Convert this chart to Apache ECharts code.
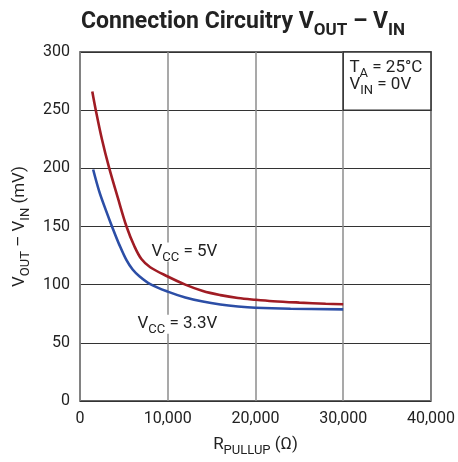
<!DOCTYPE html>
<html><head><meta charset="utf-8">
<script src="https://cdn.jsdelivr.net/npm/echarts@6/dist/echarts.min.js"></script>
<style>html,body{margin:0;padding:0;background:#fff}#c{width:458px;height:462px}</style>
</head><body><div id="c"></div>
<script>
// R_PULLUP (ohm) and VOUT - VIN (mV)
const vcc5X = [1400, 1800, 2500, 3300, 4300, 5300, 6200, 7000, 8000, 10000, 12000, 14000, 16000, 18000, 20000, 22000, 25000, 28000, 30000];
const vcc5Y = [266, 250, 225, 201, 175, 150, 133, 122, 115, 107, 100, 94.5, 91, 88.5, 87, 85.8, 84.6, 83.6, 83.2];
const vcc33X = [1500, 2200, 3000, 3700, 4500, 5300, 6000, 6800, 8000, 10000, 12000, 14000, 16000, 18000, 20000, 24000, 30000];
const vcc33Y = [199, 180, 163, 149, 134, 121, 113, 107, 100.5, 94, 89, 85.5, 83, 81.3, 80.2, 79.3, 78.8];
const xTicks = [0, 10000, 20000, 30000, 40000];
const yTicks = [0, 50, 100, 150, 200, 250, 300];

const FONT = 'Roboto, "Liberation Sans", sans-serif';
const INK = '#222';
const main = (fs) => ({fontFamily: FONT, fontSize: fs, color: INK});
const sub = (fs, drop) => ({fontFamily: FONT, fontSize: fs, color: INK, verticalAlign: 'bottom', padding: [0, 0, -drop, 0]});

const chart = echarts.init(document.getElementById('c'));
chart.setOption({
  animation: false,
  title: {
    text: '{m|Connection Circuitry V}{s|OUT}{m| – V}{s|IN}',
    left: 76, top: 6,
    textStyle: {
      rich: {
        m: {fontFamily: FONT, fontSize: 23, fontWeight: 'bold', color: INK},
        s: {fontFamily: FONT, fontSize: 17, fontWeight: 'bold', color: INK, verticalAlign: 'bottom', padding: [0, 0, -5, 0]}
      }
    }
  },
  grid: {left: 80, right: 26, top: 52, bottom: 59, show: true, borderColor: '#333', borderWidth: 1.5, backgroundColor: 'transparent'},
  xAxis: {
    type: 'value', min: xTicks[0], max: xTicks[xTicks.length - 1], interval: 10000,
    name: '{m|R}{s|PULLUP}{m| (Ω)}', nameLocation: 'middle', nameGap: 35,
    nameTextStyle: {rich: {m: main(17), s: sub(13, 4)}},
    axisLine: {show: false}, axisTick: {show: false},
    axisLabel: {fontFamily: FONT, fontSize: 16, color: INK, margin: 10},
    splitLine: {show: true, lineStyle: {color: '#8c8c8c', width: 1.5}}
  },
  yAxis: {
    type: 'value', min: yTicks[0], max: yTicks[yTicks.length - 1], interval: 50,
    name: '{m|V}{s|OUT}{m| – V}{s|IN}{m| (mV)}', nameLocation: 'middle', nameGap: 50,
    nameTextStyle: {rich: {m: main(17), s: sub(13, 4)}},
    axisLine: {show: false}, axisTick: {show: false},
    axisLabel: {fontFamily: FONT, fontSize: 16, color: INK, margin: 10},
    splitLine: {show: true, lineStyle: {color: '#333', width: 1}}
  },
  series: [
    {
      type: 'line', name: 'VCC = 5V', smooth: 0.35, symbol: 'none',
      data: vcc5X.map((x, i) => [x, vcc5Y[i]]),
      lineStyle: {color: '#a01c24', width: 2.6}, z: 3,
      markArea: {
        silent: true,
        itemStyle: {color: '#fff', borderColor: '#333', borderWidth: 1.5},
        label: {
          show: true, position: 'insideTopLeft', distance: 5, padding: [3, 0, 0, 2],
          formatter: '{m|T}{s|A}{m| = 25°C}\n{m|V}{s|IN}{m| = 0V}',
          rich: {m: Object.assign(main(17), {lineHeight: 17}), s: Object.assign(sub(13, 4), {lineHeight: 17})}
        },
        data: [[{coord: [30000, 300]}, {coord: [40000, 250]}]]
      },
      markPoint: {
        silent: true, symbol: 'circle', symbolSize: 0,
        label: {
          show: true, position: 'inside',
          formatter: (p) => p.name,
          backgroundColor: '#fff', padding: [1, 2],
          rich: {m: main(17), s: sub(13, 4)}
        },
        data: [
          {name: '{m|V}{s|CC}{m| = 5V}', coord: [11900, 128]},
          {name: '{m|V}{s|CC}{m| = 3.3V}', coord: [11100, 66]}
        ]
      }
    },
    {
      type: 'line', name: 'VCC = 3.3V', smooth: 0.35, symbol: 'none',
      data: vcc33X.map((x, i) => [x, vcc33Y[i]]),
      lineStyle: {color: '#2c4ea6', width: 2.6}, z: 3
    }
  ]
});
</script></body></html>
